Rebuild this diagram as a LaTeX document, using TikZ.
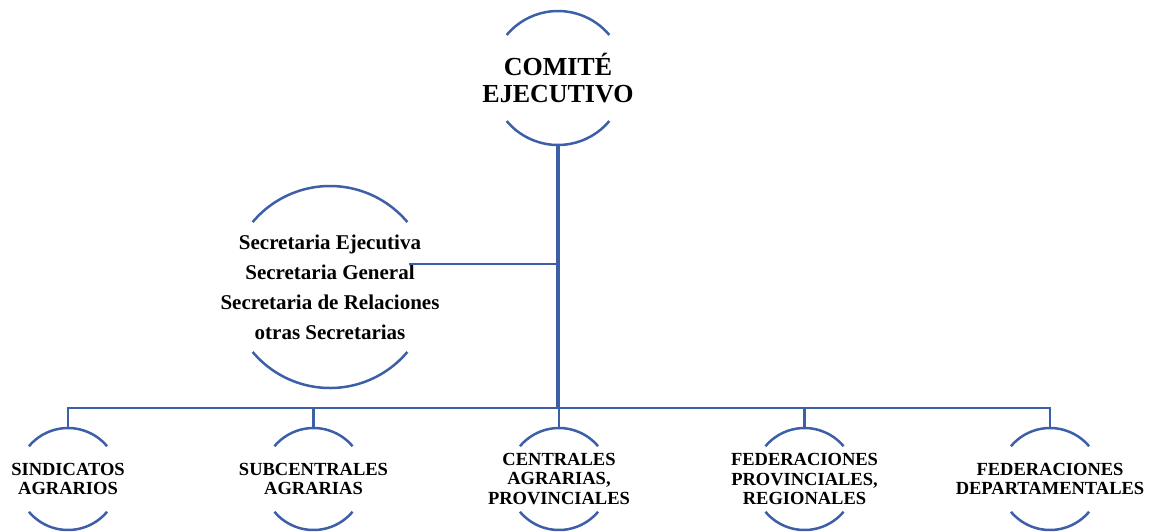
\documentclass[tikz,border=0pt]{standalone}
\usepackage{fontspec}
\setmainfont{Liberation Serif}
\definecolor{lineblue}{RGB}{60,95,168}
\tikzset{
  ring/.style={circle, draw=none, minimum size=#1, inner sep=0pt, outer sep=0pt},
  lbl/.style={align=center, inner sep=0pt},
  conn/.style={draw=lineblue, line width=2.5pt},
  stem/.style={draw=lineblue, line width=4pt},
  branch/.style={draw=lineblue, line width=2pt},
  bigfont/.style={font=\bfseries\fontsize{26}{27}\selectfont},
  midfont/.style={font=\bfseries\fontsize{21}{30}\selectfont},
  smallfont/.style={font=\bfseries\fontsize{18.5}{19.5}\selectfont},
}
\newcommand\ringarcs[2]{%
  \draw[conn] (#1.40) arc[start angle=40,end angle=140,radius=#2];
  \draw[conn] (#1.220) arc[start angle=220,end angle=320,radius=#2];}
\begin{document}
\begin{tikzpicture}[x=1pt,y=1pt]
\useasboundingbox (0,0) rectangle (1153,-531);
% top
\node[ring=134pt] (top) at (558,-78) {};
\ringarcs{top}{67pt}
\node[lbl, bigfont] (toplbl) at (top.center) {COMITÉ\\EJECUTIVO};
% secretarias
\node[ring=202pt] (sec) at (330,-287) {};
\ringarcs{sec}{101pt}
\node[lbl, midfont] (seclbl) at (sec.center) {Secretaria Ejecutiva\\Secretaria General\\Secretaria de Relaciones\\otras Secretarias};
% bottom
\node[ring=102pt] (b1) at (68,-479) {};
\node[ring=102pt] (b2) at (313.5,-479) {};
\node[ring=102pt] (b3) at (559,-479) {};
\node[ring=102pt] (b4) at (804.5,-479) {};
\node[ring=102pt] (b5) at (1050,-479) {};
\foreach \n in {b1,b2,b3,b4,b5}{\ringarcs{\n}{51pt}}
\node[lbl, smallfont] (l1) at (b1.center) {SINDICATOS\\AGRARIOS};
\node[lbl, smallfont] (l2) at (b2.center) {SUBCENTRALES\\AGRARIAS};
\node[lbl, smallfont] (l3) at (b3.center) {CENTRALES\\AGRARIAS,\\PROVINCIALES};
\node[lbl, smallfont] (l4) at (b4.center) {FEDERACIONES\\PROVINCIALES,\\REGIONALES};
\node[lbl, smallfont] (l5) at (b5.center) {FEDERACIONES\\DEPARTAMENTALES};
% connectors
\coordinate (busmid) at (558,-408);
\coordinate (secjoin) at (409,-264);
\draw[branch] (top.south |- secjoin) -- (secjoin);
\draw[conn] (b1.north) -- (b1.north |- busmid) -- (b5.north |- busmid) -- (b5.north);
\foreach \n in {b2,b3,b4}{\draw[conn] (\n.north) -- (\n.north |- busmid);}
\draw[stem] (top.south) -- (busmid);
\end{tikzpicture}
\end{document}
